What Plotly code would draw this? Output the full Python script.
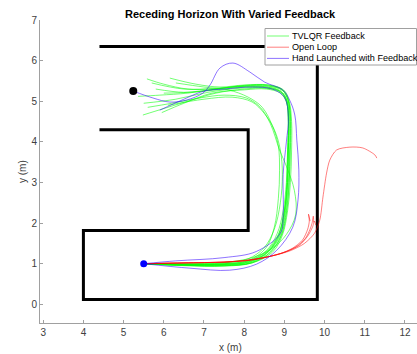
import plotly.graph_objects as go

# ---- data ----
wall_outer_x = [4.4, 9.82, 9.82, 4.0, 4.0, 8.1, 8.1, 4.4]
wall_outer_y = [6.35, 6.35, 0.12, 0.12, 1.82, 1.82, 4.3, 4.3]

start_pt = (5.5, 1.0)
goal_pt = (5.24, 5.25)

green_x = [
    [5.5, 6.5, 7.5, 8.15, 8.6, 8.88, 9.02, 9.08, 9.1, 9.1, 9.05, 8.88, 8.5, 7.9, 7.2, 6.6, 6.0, 5.58],
    [5.5, 6.5, 7.5, 8.2, 8.65, 8.92, 9.05, 9.12, 9.15, 9.16, 9.1, 8.95, 8.6, 8.0, 7.3, 6.6, 5.9, 5.36],
    [5.5, 6.5, 7.5, 8.1, 8.55, 8.85, 9.0, 9.08, 9.1, 9.12, 9.08, 8.92, 8.55, 8.0, 7.3, 6.6, 6.0, 5.48],
    [5.5, 6.5, 7.5, 8.2, 8.7, 8.95, 9.08, 9.15, 9.18, 9.18, 9.12, 8.98, 8.6, 8.0, 7.4, 6.8, 6.15],
    [5.5, 6.5, 7.5, 8.1, 8.55, 8.82, 8.97, 9.05, 9.08, 9.1, 9.05, 8.9, 8.55, 8.0, 7.2, 6.5, 5.95],
    [5.5, 6.5, 7.5, 8.18, 8.62, 8.9, 9.03, 9.1, 9.13, 9.14, 9.1, 8.95, 8.6, 8.0, 7.3, 6.5, 5.7],
    [5.5, 6.5, 7.5, 8.2, 8.7, 9.05, 9.28, 9.25, 9.05, 8.88, 8.65, 8.4, 8.05, 7.5, 6.9, 6.2, 5.6],
    [5.5, 6.5, 7.5, 8.15, 8.6, 8.87, 9.0, 9.06, 9.08, 9.1, 9.07, 8.92, 8.55, 8.0, 7.3, 6.5, 5.8],
    [5.5, 6.5, 7.5, 8.15, 8.55, 8.75, 8.85, 8.88, 8.85, 8.7, 8.45, 8.1, 7.6, 7.0, 6.3],
    [5.5, 6.5, 7.5, 8.12, 8.58, 8.86, 9.0, 9.07, 9.1, 9.11, 9.06, 8.9, 8.5, 7.9, 7.1, 6.3, 5.5],
    [5.5, 6.5, 7.5, 8.2, 8.66, 8.93, 9.06, 9.12, 9.14, 9.15, 9.1, 8.96, 8.6, 8.0, 7.3, 6.6, 6.0],
    [5.5, 6.5, 7.5, 8.1, 8.5, 8.75, 8.9, 8.95, 8.9, 8.75, 8.5, 8.2, 7.7, 7.0, 6.1],
]
green_y = [
    [1.0, 0.97, 0.97, 1.04, 1.3, 1.7, 2.3, 3.0, 3.8, 4.5, 5.0, 5.25, 5.36, 5.36, 5.3, 5.3, 5.42, 5.55],
    [1.0, 0.95, 0.94, 1.02, 1.28, 1.7, 2.3, 3.0, 3.8, 4.5, 5.0, 5.27, 5.38, 5.38, 5.3, 5.2, 5.15, 5.12],
    [1.0, 0.98, 0.99, 1.06, 1.3, 1.72, 2.3, 3.0, 3.8, 4.5, 4.98, 5.22, 5.32, 5.3, 5.2, 5.0, 4.82, 4.66],
    [1.0, 0.96, 0.95, 1.02, 1.28, 1.7, 2.3, 3.0, 3.8, 4.5, 5.0, 5.28, 5.4, 5.4, 5.35, 5.42, 5.57],
    [1.0, 0.99, 1.0, 1.07, 1.32, 1.74, 2.3, 3.0, 3.8, 4.5, 4.98, 5.2, 5.3, 5.28, 5.2, 4.95, 4.72],
    [1.0, 0.96, 0.96, 1.03, 1.3, 1.7, 2.3, 3.0, 3.8, 4.5, 5.0, 5.27, 5.37, 5.37, 5.32, 5.3, 5.45],
    [1.0, 1.0, 1.03, 1.15, 1.38, 1.72, 2.2, 2.8, 3.4, 3.8, 4.45, 4.85, 5.08, 5.15, 5.08, 4.95, 4.85],
    [1.0, 0.97, 0.98, 1.05, 1.3, 1.72, 2.3, 3.0, 3.8, 4.5, 5.0, 5.25, 5.35, 5.35, 5.28, 5.22, 5.3],
    [1.0, 0.98, 1.0, 1.1, 1.4, 1.9, 2.6, 3.3, 3.9, 4.4, 4.85, 5.1, 5.28, 5.35, 5.45],
    [1.0, 0.98, 0.98, 1.05, 1.3, 1.72, 2.3, 3.0, 3.8, 4.5, 5.0, 5.24, 5.33, 5.32, 5.22, 5.05, 4.95],
    [1.0, 0.96, 0.95, 1.03, 1.29, 1.7, 2.3, 3.0, 3.8, 4.5, 5.02, 5.28, 5.4, 5.39, 5.3, 5.22, 5.2],
    [1.0, 0.99, 1.02, 1.12, 1.4, 1.85, 2.5, 3.2, 3.8, 4.3, 4.7, 4.98, 5.1, 5.05, 4.9],
]

red_x = [
    [5.5, 6.5, 7.5, 8.1, 8.5, 8.9, 9.2, 9.45, 9.58, 9.62, 9.6, 9.64],
    [5.5, 6.5, 7.5, 8.1, 8.55, 9.0, 9.3, 9.52, 9.64, 9.69, 9.72, 9.73],
    [5.5, 6.5, 7.5, 8.1, 8.6, 9.05, 9.38, 9.58, 9.7, 9.75, 9.78],
    [5.5, 6.5, 7.5, 8.1, 8.65, 9.15, 9.5, 9.75, 9.88, 9.96, 10.05, 10.13, 10.3, 10.63, 10.95, 11.25, 11.3],
]
red_y = [
    [1.0, 1.02, 1.04, 1.08, 1.15, 1.25, 1.38, 1.58, 1.85, 2.05, 2.22, 2.05],
    [1.0, 1.02, 1.04, 1.08, 1.16, 1.28, 1.42, 1.62, 1.85, 2.0, 2.17, 2.02],
    [1.0, 1.02, 1.04, 1.09, 1.17, 1.3, 1.46, 1.68, 1.9, 2.05, 1.95],
    [1.0, 1.02, 1.04, 1.09, 1.18, 1.32, 1.5, 1.75, 2.07, 2.64, 3.23, 3.55, 3.8, 3.87, 3.85, 3.68, 3.6],
]

purple_x = [
    [5.5, 6.65, 7.64, 8.31, 8.81, 9.21, 9.34, 9.36, 9.31, 9.26, 9.13, 8.96, 8.51, 8.14, 7.72, 7.4, 7.15, 6.97, 6.57, 6.15, 5.73, 5.24],
    [5.5, 6.3, 7.5, 8.3, 8.9, 8.97, 8.97, 9.05, 9.1, 9.0, 8.7, 8.2, 7.5, 7.0, 6.5, 5.9],
]
purple_y = [
    [1.0, 0.89, 0.84, 0.99, 1.33, 1.9, 2.57, 3.31, 4.04, 4.66, 5.03, 5.28, 5.47, 5.72, 5.94, 5.82, 5.4, 5.2, 5.03, 4.98, 5.08, 5.25],
    [1.0, 1.07, 1.15, 1.3, 1.75, 2.25, 3.2, 4.0, 4.6, 5.1, 5.3, 5.35, 5.3, 5.25, 5.05, 4.78],
]

x_ticks = [3, 4, 5, 6, 7, 8, 9, 10, 11, 12]
y_ticks = [0, 1, 2, 3, 4, 5, 6, 7]

legend_labels = ["TVLQR Feedback", "Open Loop", "Hand Launched with Feedback"]
legend_colors = ["rgba(0,255,0,0.55)", "rgba(255,0,0,0.5)", "rgba(50,0,255,0.55)"]
GREEN, RED, PURPLE = legend_colors

FONT = "Liberation Sans, Arial, sans-serif"

fig = go.Figure()

fig.add_trace(go.Scatter(x=wall_outer_x, y=wall_outer_y, mode="lines",
                         line=dict(color="black", width=3), showlegend=False,
                         hoverinfo="skip"))

for xs, ys in zip(green_x, green_y):
    fig.add_trace(go.Scatter(x=xs, y=ys, mode="lines",
                             line=dict(color=GREEN, width=1, shape="spline", smoothing=1),
                             name=legend_labels[0], showlegend=False))
for xs, ys in zip(red_x, red_y):
    fig.add_trace(go.Scatter(x=xs, y=ys, mode="lines",
                             line=dict(color=RED, width=1, shape="spline", smoothing=0.8),
                             name=legend_labels[1], showlegend=False))
for xs, ys in zip(purple_x, purple_y):
    fig.add_trace(go.Scatter(x=xs, y=ys, mode="lines",
                             line=dict(color=PURPLE, width=1, shape="spline", smoothing=1),
                             name=legend_labels[2], showlegend=False))

fig.add_trace(go.Scatter(x=[goal_pt[0]], y=[goal_pt[1]], mode="markers",
                         marker=dict(color="black", size=8), showlegend=False))
fig.add_trace(go.Scatter(x=[start_pt[0]], y=[start_pt[1]], mode="markers",
                         marker=dict(color="blue", size=7), showlegend=False))

axis_common = dict(showgrid=False, zeroline=False, showline=True, linecolor="#a0a0a0",
                   linewidth=1, ticks="inside", ticklen=3, tickcolor="#a0a0a0",
                   tickfont=dict(family=FONT, size=10, color="#404040"),
                   mirror=False)

# plot area in pixels: x 40..417, y 20..323
PL, PR, PT, PB = 40, 417, 20, 323
def px_x(p):
    return (p - PL) / (PR - PL)
def px_y(p):
    return (PB - p) / (PB - PT)

shapes = [dict(type="rect", xref="paper", yref="paper",
               x0=px_x(265), x1=px_x(416.5), y0=px_y(65), y1=px_y(28.5),
               line=dict(color="#a0a0a0", width=1), fillcolor="white", layer="above")]
annotations = []
for i, (lab, col) in enumerate(zip(legend_labels, legend_colors)):
    yy = px_y(36 + 11.2 * i)
    shapes.append(dict(type="line", xref="paper", yref="paper",
                       x0=px_x(267), x1=px_x(289), y0=yy, y1=yy,
                       line=dict(color=col, width=1), layer="above"))
    annotations.append(dict(text=lab, xref="paper", yref="paper", x=px_x(289.5), y=yy,
                            xanchor="left", yanchor="middle", showarrow=False,
                            font=dict(family=FONT, size=9.1, color="black")))

annotations.append(dict(text="x (m)", xref="paper", yref="paper", x=px_x(230), y=px_y(347),
                        xanchor="center", yanchor="middle", showarrow=False,
                        font=dict(family=FONT, size=10, color="#404040")))
annotations.append(dict(text="y (m)", xref="paper", yref="paper", x=px_x(22), y=px_y(172),
                        xanchor="center", yanchor="middle", showarrow=False, textangle=-90,
                        font=dict(family=FONT, size=10, color="#404040")))
annotations.append(dict(text="<b>Receding Horizon With Varied Feedback</b>", xref="paper",
                        yref="paper", x=px_x(230), y=px_y(14),
                        xanchor="center", yanchor="middle", showarrow=False,
                        font=dict(family=FONT, size=11, color="black")))

fig.update_layout(
    width=417, height=354,
    margin=dict(l=PL, r=417 - PR, t=PT, b=354 - PB, autoexpand=False),
    paper_bgcolor="white", plot_bgcolor="white",
    xaxis=dict(range=[2.92, 12.3], tickvals=x_ticks, **axis_common),
    yaxis=dict(range=[-0.46, 7.0], tickvals=y_ticks, **axis_common),
    shapes=shapes, annotations=annotations,
    showlegend=False,
)

fig.write_html("out.html", config={"displayModeBar": False},
               post_script="document.body.style.margin='0';document.body.style.overflow='hidden';")
